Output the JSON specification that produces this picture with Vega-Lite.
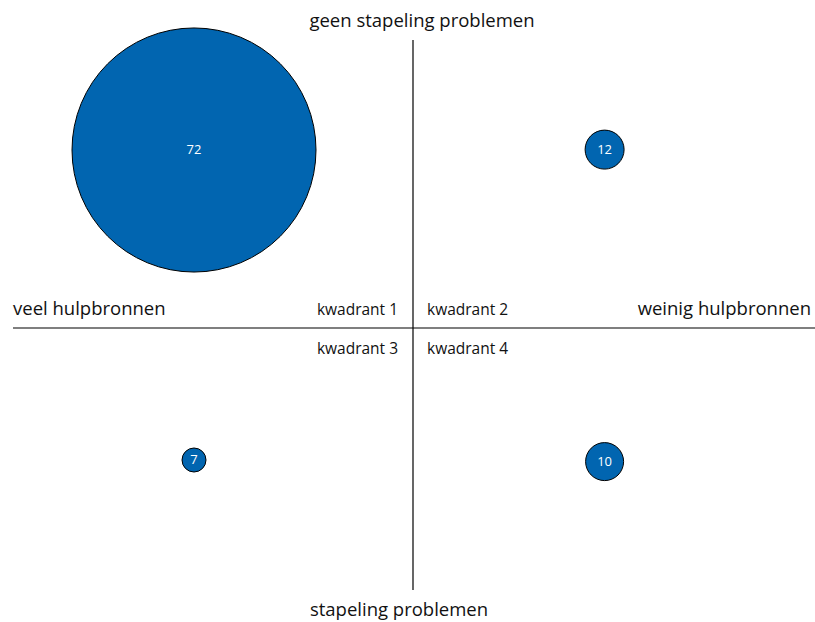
{
  "$schema": "https://vega.github.io/schema/vega-lite/v6.json",
  "width": 815,
  "height": 622,
  "padding": 0,
  "autosize": {"type": "none"},
  "config": {"view": {"stroke": null}, "font": "Open Sans"},
  "datasets": {
    "bubbles": [
      {"kwadrant": 1, "x": -5.475, "y": 4.45, "aantal": 72},
      {"kwadrant": 2, "x": 4.79, "y": 4.46, "aantal": 12},
      {"kwadrant": 3, "x": -5.475, "y": -3.3, "aantal": 7},
      {"kwadrant": 4, "x": 4.79, "y": -3.34, "aantal": 10}
    ],
    "lines": [
      {"x": -10, "x2": 10.05, "y": 0, "y2": 0},
      {"x": 0, "x2": 0, "y": -6.55, "y2": 7.2}
    ],
    "labels": [
      {"label": "geen stapeling problemen", "x": 0.225, "y": 7.67, "kind": "center"},
      {"label": "stapeling problemen", "x": -0.35, "y": -7.05, "kind": "center"},
      {"label": "veel hulpbronnen", "x": -10.0, "y": 0.48, "kind": "left"},
      {"label": "weinig hulpbronnen", "x": 9.95, "y": 0.48, "kind": "right"},
      {"label": "kwadrant 1", "x": -0.375, "y": 0.45, "kind": "qright"},
      {"label": "kwadrant 2", "x": 0.35, "y": 0.45, "kind": "qleft"},
      {"label": "kwadrant 3", "x": -0.375, "y": -0.53, "kind": "qright"},
      {"label": "kwadrant 4", "x": 0.35, "y": -0.53, "kind": "qleft"}
    ]
  },
  "encoding": {
    "x": {"field": "x", "type": "quantitative", "scale": {"domain": [-10.325, 10.05]}, "axis": null},
    "y": {"field": "y", "type": "quantitative", "scale": {"domain": [-7.35, 8.2]}, "axis": null}
  },
  "layer": [
    {
      "data": {"name": "lines"},
      "mark": {"type": "rule", "color": "#000000", "strokeWidth": 1.2},
      "encoding": {"x2": {"field": "x2"}, "y2": {"field": "y2"}}
    },
    {
      "data": {"name": "bubbles"},
      "mark": {"type": "circle", "opacity": 1, "fill": "#0165b0", "stroke": "#000000", "strokeWidth": 1},
      "encoding": {
        "size": {"field": "aantal", "type": "quantitative", "legend": null,
          "scale": {"type": "linear", "domain": [0, 7, 10, 12, 72], "range": [0, 576, 1444, 1521, 59536]}}
      }
    },
    {
      "data": {"name": "bubbles"},
      "mark": {"type": "text", "color": "#ffffff", "fontSize": 13, "baseline": "middle", "align": "center"},
      "encoding": {"text": {"field": "aantal", "type": "quantitative"}}
    },
    {
      "data": {"name": "labels"},
      "transform": [{"filter": "datum.kind === 'center'"}],
      "mark": {"type": "text", "fontSize": 18.5, "baseline": "middle", "align": "center", "color": "#111111"},
      "encoding": {"text": {"field": "label"}}
    },
    {
      "data": {"name": "labels"},
      "transform": [{"filter": "datum.kind === 'left'"}],
      "mark": {"type": "text", "fontSize": 18.5, "baseline": "middle", "align": "left", "color": "#111111"},
      "encoding": {"text": {"field": "label"}}
    },
    {
      "data": {"name": "labels"},
      "transform": [{"filter": "datum.kind === 'right'"}],
      "mark": {"type": "text", "fontSize": 18.5, "baseline": "middle", "align": "right", "color": "#111111"},
      "encoding": {"text": {"field": "label"}}
    },
    {
      "data": {"name": "labels"},
      "transform": [{"filter": "datum.kind === 'qright'"}],
      "mark": {"type": "text", "fontSize": 15.5, "baseline": "middle", "align": "right", "color": "#111111"},
      "encoding": {"text": {"field": "label"}}
    },
    {
      "data": {"name": "labels"},
      "transform": [{"filter": "datum.kind === 'qleft'"}],
      "mark": {"type": "text", "fontSize": 15.5, "baseline": "middle", "align": "left", "color": "#111111"},
      "encoding": {"text": {"field": "label"}}
    }
  ]
}
